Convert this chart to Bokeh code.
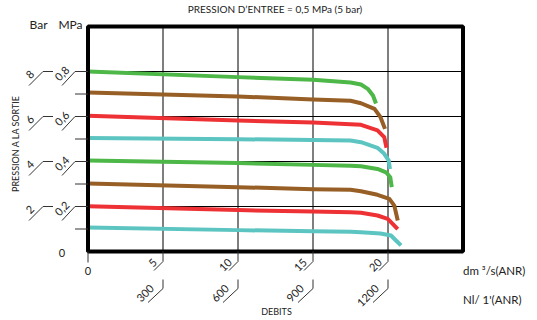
import numpy as np
from bokeh.plotting import figure
from bokeh.models import Range1d
from bokeh.embed import file_html
from bokeh.resources import INLINE
from bokeh.core.properties import value

# ---------------- data ----------------
title_text = "PRESSION D\u2019ENTREE = 0,5 MPa (5 bar)"
y_title = "PRESSION A LA SORTIE"
x_title = "DEBITS"
unit_dm3 = "dm \u00b3/s(ANR)"
unit_nl = "Nl/ 1'(ANR)"
unit_bar = "Bar"
unit_mpa = "MPa"

x_max = 25.0          # dm3/s
y_max = 1.0           # MPa
minor_ticks = [0.1, 0.2, 0.3, 0.4, 0.5, 0.6, 0.7, 0.8]
mpa_ticks = [0.2, 0.4, 0.6, 0.8]
mpa_labels = ["0,2", "0,4", "0,6", "0,8"]
bar_labels = ["2", "4", "6", "8"]
flow_ticks = [5, 10, 15, 20]
flow_labels = ["5", "10", "15", "20"]
nl_labels = ["300", "600", "900", "1200"]

green1_x = [0, 10, 15, 17.5, 18.2, 18.65, 19.0, 19.2]
green1_y = [0.800, 0.775, 0.763, 0.751, 0.742, 0.723, 0.693, 0.658]
brown1_x = [0, 10, 15, 17.5, 18.2, 19.1, 19.5, 19.8]
brown1_y = [0.707, 0.689, 0.676, 0.670, 0.659, 0.634, 0.597, 0.545]
red1_x = [0, 10, 15, 17.5, 18.2, 19.3, 19.75, 19.9]
red1_y = [0.603, 0.582, 0.573, 0.566, 0.563, 0.538, 0.508, 0.461]
teal1_x = [0, 10, 15, 17.5, 18.2, 19.3, 19.75, 20.05, 20.13]
teal1_y = [0.504, 0.499, 0.496, 0.493, 0.486, 0.461, 0.434, 0.404, 0.367]
green2_x = [0, 10, 15, 17.5, 18.2, 19.3, 19.87, 20.15, 20.25]
green2_y = [0.404, 0.393, 0.385, 0.381, 0.379, 0.367, 0.352, 0.330, 0.286]
brown2_x = [0, 10, 15, 17.5, 18.2, 19.3, 20.09, 20.42, 20.65]
brown2_y = [0.302, 0.286, 0.277, 0.274, 0.268, 0.252, 0.234, 0.204, 0.138]
red2_x = [0, 10, 15, 17.5, 18.2, 19.3, 19.98, 20.31, 20.65]
red2_y = [0.201, 0.184, 0.178, 0.174, 0.172, 0.160, 0.145, 0.123, 0.099]
teal2_x = [0, 10, 15, 17.5, 18.2, 19.5, 20.2, 20.53, 20.87]
teal2_y = [0.107, 0.095, 0.090, 0.088, 0.086, 0.080, 0.071, 0.049, 0.027]

GREEN, BROWN, RED, TEAL = "#4db748", "#975f25", "#ee3134", "#5dc5c1"
curves = [
    (green1_x, green1_y, GREEN), (brown1_x, brown1_y, BROWN),
    (red1_x, red1_y, RED), (teal1_x, teal1_y, TEAL),
    (green2_x, green2_y, GREEN), (brown2_x, brown2_y, BROWN),
    (red2_x, red2_y, RED), (teal2_x, teal2_y, TEAL),
]

# ---------------- layout ----------------
W, H = 530, 316
SX = 15.0      # px per dm3/s
SY = 225.0     # px per MPa
X0_PX = 87.5   # x=0 position inside canvas (px)
Y0_PX = 251.0  # y=0 position inside canvas (px from top)

x_start = -X0_PX / SX
x_end = (W - X0_PX) / SX
y_end = Y0_PX / SY
y_start = (Y0_PX - H) / SY

def dx(px):
    return px / SX

def dy(px):  # px downward on screen -> data offset
    return -px / SY

FONT = value("Lato")

p = figure(width=W, height=H, output_backend="svg", toolbar_location=None,
           x_range=Range1d(x_start, x_end), y_range=Range1d(y_start, y_end),
           min_border=0, min_border_left=0, min_border_right=0,
           min_border_top=0, min_border_bottom=0)
p.axis.visible = False
p.grid.visible = False
p.outline_line_color = None
p.background_fill_color = "white"
p.border_fill_color = "white"

# grid
p.segment(x0=flow_ticks, y0=[0] * 4, x1=flow_ticks, y1=[y_max] * 4,
          line_color="#7f7f7f", line_width=2)
p.segment(x0=[0] * 4, y0=mpa_ticks, x1=[x_max] * 4, y1=mpa_ticks,
          line_color="black", line_width=1.2)

# curves
for cx, cy, col in curves:
    p.line(cx, cy, line_color=col, line_width=4, line_join="round")

# frame box
p.quad(left=[0], right=[x_max], bottom=[0], top=[y_max], fill_color=None,
       line_color="black", line_width=4)

TICK = "#333333"
# left ticks
p.segment(x0=[dx(-13)] * len(minor_ticks), y0=minor_ticks,
          x1=[0] * len(minor_ticks), y1=minor_ticks, line_color=TICK, line_width=1)
n = len(mpa_ticks)
# MPa leaders
p.segment(x0=[dx(-13)] * n, y0=mpa_ticks, x1=[dx(-26)] * n,
          y1=[t + dy(14) for t in mpa_ticks], line_color=TICK, line_width=1)
# Bar leaders
p.segment(x0=[dx(-45)] * n, y0=mpa_ticks, x1=[dx(-35)] * n, y1=mpa_ticks,
          line_color=TICK, line_width=1)
p.segment(x0=[dx(-45)] * n, y0=mpa_ticks, x1=[dx(-59)] * n,
          y1=[t + dy(14) for t in mpa_ticks], line_color=TICK, line_width=1)

p.text(x=[dx(-26)] * n, y=mpa_ticks, text=mpa_labels, angle=np.pi / 4,
       text_align="center", text_baseline="middle", text_font=FONT,
       text_font_size="11px", text_color="#222222", y_offset=2)
p.text(x=[dx(-58)] * n, y=mpa_ticks, text=bar_labels, angle=np.pi / 4,
       text_align="center", text_baseline="middle", text_font=FONT,
       text_font_size="11px", text_color="#222222", y_offset=3)
p.text(x=[dx(-26)], y=[0], text=["0"], text_align="center", text_baseline="middle",
       text_font=FONT, text_font_size="11px", text_color="#222222", y_offset=1)

# bottom ticks
m = len(flow_ticks)
p.segment(x0=[0], y0=[0], x1=[0], y1=[dy(11)], line_color=TICK, line_width=1)
p.text(x=[0], y=[0], text=["0"], text_align="center", text_baseline="middle",
       text_font=FONT, text_font_size="11px", text_color="#222222", y_offset=19)
p.segment(x0=flow_ticks, y0=[0] * m, x1=flow_ticks, y1=[dy(10)] * m,
          line_color=TICK, line_width=1)
p.segment(x0=flow_ticks, y0=[dy(10)] * m, x1=[f + dx(-9) for f in flow_ticks],
          y1=[dy(19)] * m, line_color=TICK, line_width=1)
p.text(x=flow_ticks, y=[dy(10)] * m, text=flow_labels, angle=np.pi / 4,
       text_align="right", text_baseline="middle", text_font=FONT,
       text_font_size="11px", text_color="#222222", x_offset=-8, y_offset=-1)
p.segment(x0=flow_ticks, y0=[dy(28)] * m, x1=flow_ticks, y1=[dy(37)] * m,
          line_color=TICK, line_width=1)
p.segment(x0=flow_ticks, y0=[dy(37)] * m, x1=[f + dx(-15) for f in flow_ticks],
          y1=[dy(51)] * m, line_color=TICK, line_width=1)
p.text(x=flow_ticks, y=[dy(37)] * m, text=nl_labels, angle=np.pi / 4,
       text_align="right", text_baseline="middle", text_font=FONT,
       text_font_size="11px", text_color="#222222", x_offset=-11, y_offset=-2)

# titles / units
p.text(x=[dx(187)], y=[y_end], text=[title_text], text_align="center",
       text_baseline="middle", text_font=FONT, text_font_size="10px",
       text_color="#222222", y_offset=8)
p.text(x=[dx(-49.5)], y=[y_max], text=[unit_bar], text_align="center",
       text_baseline="middle", text_font=FONT, text_font_size="12px",
       text_color="#222222", y_offset=-2)
p.text(x=[dx(-17.5)], y=[y_max], text=[unit_mpa], text_align="center",
       text_baseline="middle", text_font=FONT, text_font_size="12px",
       text_color="#222222", y_offset=-2)
p.text(x=[dx(-72.5)], y=[0.48], text=[y_title], angle=np.pi / 2,
       text_align="center", text_baseline="middle", text_font=FONT,
       text_font_size="9px", text_color="#222222")
p.text(x=[x_max], y=[0], text=[unit_dm3], text_align="left",
       text_baseline="middle", text_font=FONT, text_font_size="11.5px",
       text_color="#222222", y_offset=19)
p.text(x=[x_max], y=[0], text=[unit_nl], text_align="left",
       text_baseline="middle", text_font=FONT, text_font_size="11.5px",
       text_color="#222222", y_offset=48)
p.text(x=[dx(188.5)], y=[y_start], text=[x_title], text_align="center",
       text_baseline="bottom", text_font=FONT, text_font_size="9px",
       text_color="#222222", y_offset=0)

open("out.html", "w").write(file_html(p, INLINE))
